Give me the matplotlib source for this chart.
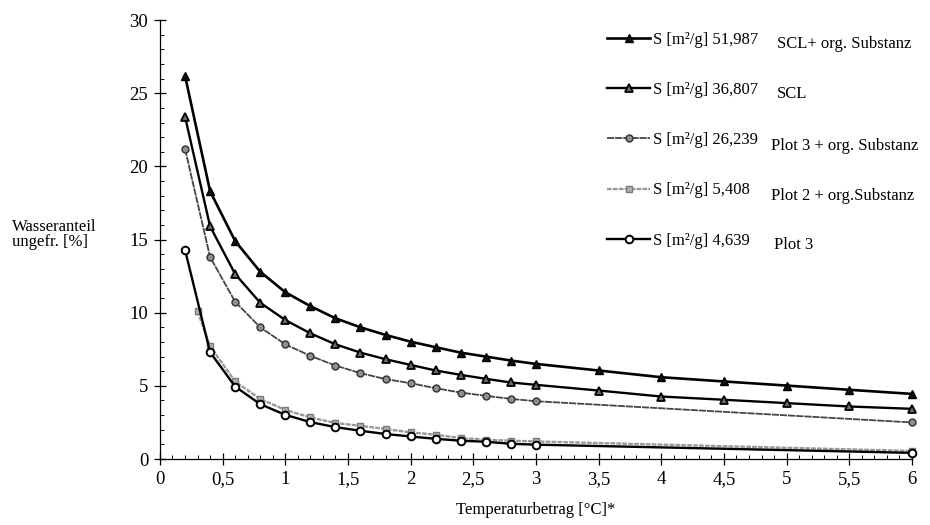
import matplotlib.pyplot as plt
from matplotlib.ticker import MultipleLocator, FuncFormatter

plt.rcParams['font.family'] = ['Liberation Serif', 'DejaVu Serif']

# Temperaturbetrag [°C]
x_scl = [0.2, 0.4, 0.6, 0.8, 1.0, 1.2, 1.4, 1.6, 1.8, 2.0, 2.2, 2.4, 2.6, 2.8, 3.0,
         3.5, 4.0, 4.5, 5.0, 5.5, 6.0]
y_scl_org = [26.2, 18.3, 14.9, 12.8, 11.4, 10.45, 9.62, 9.0, 8.48, 8.02, 7.64, 7.27,
             7.0, 6.73, 6.5, 6.05, 5.59, 5.3, 5.02, 4.73, 4.45]
y_scl = [23.4, 15.9, 12.64, 10.68, 9.5, 8.59, 7.84, 7.27, 6.82, 6.43, 6.05, 5.75,
         5.48, 5.23, 5.07, 4.68, 4.27, 4.05, 3.82, 3.59, 3.43]

x_p3org = [0.2, 0.4, 0.6, 0.8, 1.0, 1.2, 1.4, 1.6, 1.8, 2.0, 2.2, 2.4, 2.6, 2.8, 3.0, 6.0]
y_p3org = [21.2, 13.8, 10.75, 9.0, 7.84, 7.05, 6.39, 5.87, 5.46, 5.18, 4.84, 4.54,
           4.32, 4.11, 3.95, 2.5]

x_p2 = [0.3, 0.4, 0.6, 0.8, 1.0, 1.2, 1.4, 1.6, 1.8, 2.0, 2.2, 2.4, 2.6, 2.8, 3.0, 6.0]
y_p2 = [10.1, 7.7, 5.3, 4.1, 3.36, 2.84, 2.46, 2.27, 2.05, 1.82, 1.66, 1.43, 1.32,
        1.25, 1.2, 0.55]

x_p3 = [0.2, 0.4, 0.6, 0.8, 1.0, 1.2, 1.4, 1.6, 1.8, 2.0, 2.2, 2.4, 2.6, 2.8, 3.0, 6.0]
y_p3 = [14.3, 7.3, 4.95, 3.75, 3.02, 2.52, 2.18, 1.93, 1.71, 1.54, 1.38, 1.25, 1.18,
        1.04, 0.98, 0.42]

labels = ["S [m²/g] 51,987", "S [m²/g] 36,807", "S [m²/g] 26,239",
          "S [m²/g] 5,408", "S [m²/g] 4,639"]
namen = ["SCL+ org. Substanz", "SCL", "Plot 3 + org. Substanz",
         "Plot 2 + org.Substanz", "Plot 3"]

fig = plt.figure(figsize=(9.3, 5.25), dpi=100)
ax = fig.add_axes([0.172, 0.1257, 0.8086, 0.836])

ax.plot(x_scl, y_scl_org, color='black', lw=1.9, marker='^', ms=6,
        mfc='#111111', mec='black', clip_on=False, label=labels[0], zorder=5)
ax.plot(x_scl, y_scl, color='black', lw=1.7, marker='^', ms=6,
        mfc='#6a6a6a', mec='black', mew=1.3, clip_on=False, label=labels[1], zorder=5)
ax.plot(x_p3org, y_p3org, color='#454545', lw=1.3, linestyle=(0, (4, 0.5)),
        marker='o', ms=5, mfc='#8f8f8f', mec='#303030', clip_on=False,
        label=labels[2], zorder=4)
ax.plot(x_p2, y_p2, color='#999999', lw=1.7, linestyle=(0, (2, 0.5)),
        marker='s', ms=5, mfc='#b0b0b0', mec='#7a7a7a', clip_on=False,
        label=labels[3], zorder=3)
ax.plot(x_p3, y_p3, color='black', lw=1.7, marker='o', ms=5.5, mfc='white',
        mec='black', mew=1.4, clip_on=False, label=labels[4], zorder=4)

ax.set_xlim(0, 6)
ax.set_ylim(0, 30)
ax.spines['top'].set_visible(False)
ax.spines['right'].set_visible(False)
ax.spines['left'].set_linewidth(0.9)
ax.spines['bottom'].set_linewidth(0.9)

ax.xaxis.set_major_locator(MultipleLocator(0.5))
ax.xaxis.set_minor_locator(MultipleLocator(0.1))
ax.yaxis.set_major_locator(MultipleLocator(5))
ax.yaxis.set_minor_locator(MultipleLocator(1))
ax.xaxis.set_major_formatter(FuncFormatter(lambda v, p: f"{v:g}".replace('.', ',')))
ax.tick_params(which='major', direction='inout', length=9, width=0.9,
               labelsize=13.5, pad=4)
ax.tick_params(which='minor', direction='in', length=3, width=0.7)

ax.set_xlabel("Temperaturbetrag [°C]*", fontsize=12, labelpad=10)
fig.text(12 / 930, 0.553, "Wasseranteil\nungefr. [%]", fontsize=12,
         ha='left', va='center', linespacing=0.95)

ax.legend(loc='upper left', bbox_to_anchor=(607 / 930, 1 - 32 / 525),
          bbox_transform=fig.transFigure, frameon=False, fontsize=12,
          numpoints=1, handlelength=2.6, handletextpad=0.15,
          labelspacing=2.05, borderpad=0, borderaxespad=0)

name_y = [44, 94, 146, 196, 245]
name_x = [777, 777, 771, 771, 774]
for nx, ny, txt in zip(name_x, name_y, namen):
    fig.text(nx / 930, 1 - ny / 525, txt, fontsize=12, ha='left', va='center')

fig.savefig("out.png", dpi=100)
